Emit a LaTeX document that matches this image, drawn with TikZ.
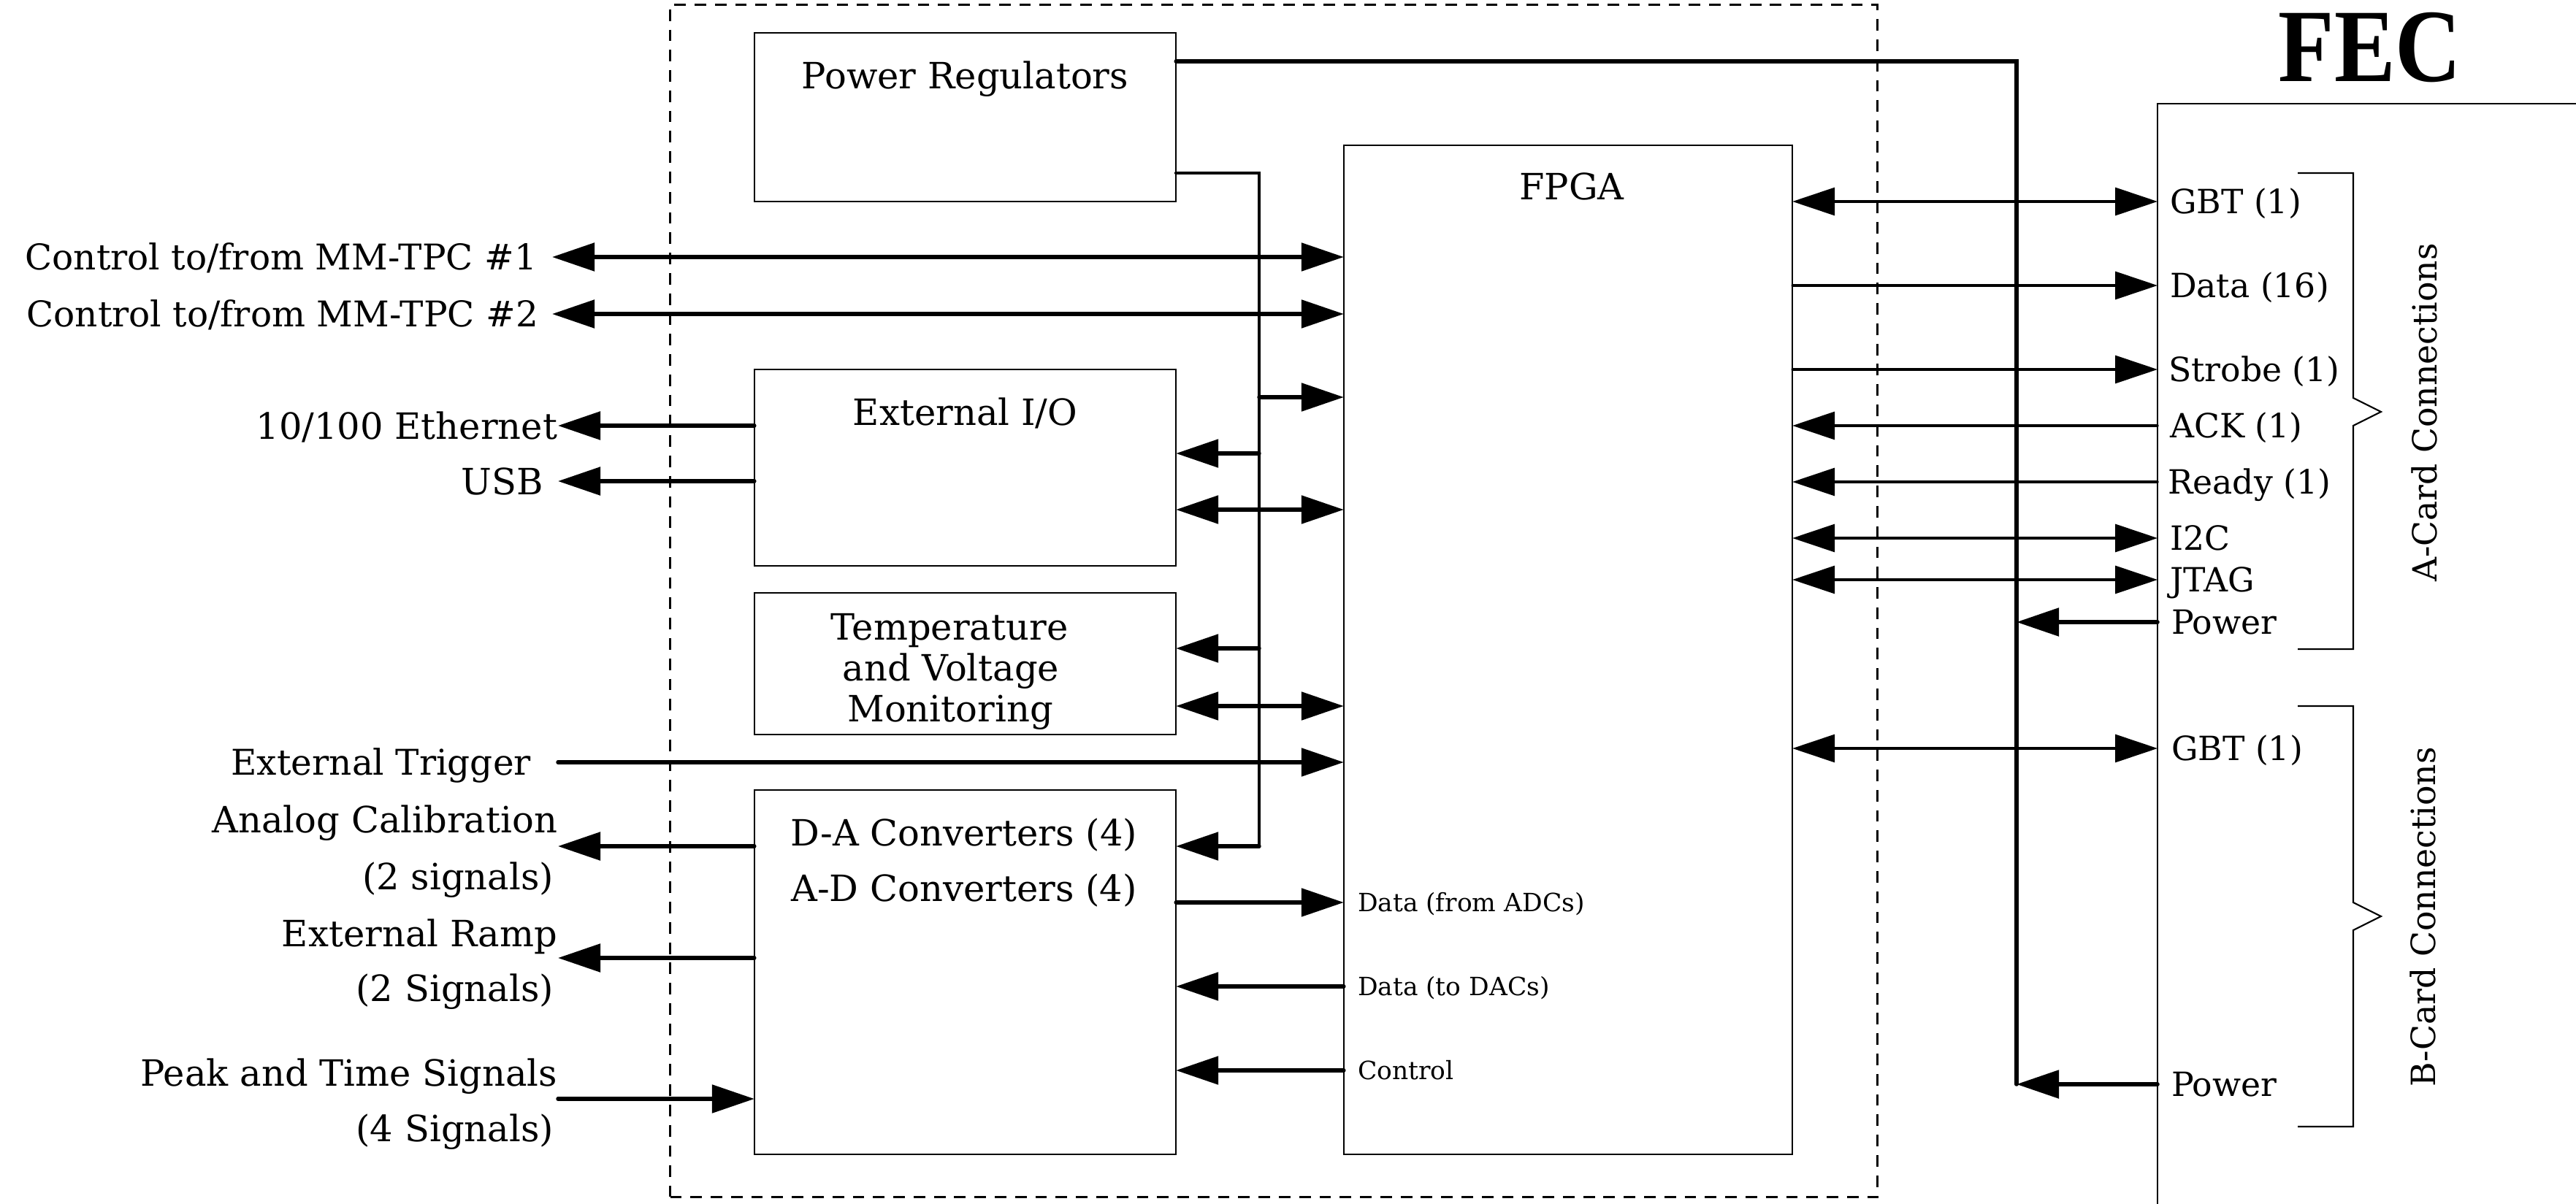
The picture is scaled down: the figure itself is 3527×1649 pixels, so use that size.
\documentclass[tikz,border=0pt]{standalone}
\usepackage{fontspec}
\setmainfont{DejaVu Serif}
\newfontfamily\fecfont{Liberation Serif}
\usetikzlibrary{arrows.meta,calc}
\begin{document}
\begin{tikzpicture}[x=0.01cm,y=-0.01cm,
  >={Triangle[length=0.58cm,width=0.38cm]},
  box/.style={draw,line width=0.6pt,inner sep=0pt,outer sep=0pt},
  lbl/.style={inner sep=0pt,outer sep=0pt,font=\fontsize{14.1}{17}\selectfont,text height=10.28pt,text depth=0pt},
  clbl/.style={inner sep=0pt,outer sep=0pt,font=\fontsize{13.8}{17}\selectfont,text height=10.06pt,text depth=0pt},
  rlbl/.style={inner sep=0pt,outer sep=0pt,font=\fontsize{13}{15}\selectfont,text height=9.48pt,text depth=0pt},
  slbl/.style={inner sep=0pt,outer sep=0pt,font=\fontsize{9.8}{12}\selectfont,text height=7.15pt,text depth=0pt},
  thk/.style={line width=1.55pt,line cap=round},
  thn/.style={line width=0.95pt,line cap=round},
  busl/.style={line width=1.35pt,line cap=round,line join=miter},
  brace/.style={line width=0.6pt},
]
\useasboundingbox (0,0) rectangle (3527,1649);

% dashed frame
\node[draw,dash pattern=on 4.5pt off 3.4pt,line width=0.6pt,minimum width=16.52cm,minimum height=16.32cm,inner sep=0pt,outer sep=0pt] (frame) at (1744,823) {};

% boxes
\node[box,minimum width=5.77cm,minimum height=2.31cm] (pr) at (1321.5,160.5) {};
\node[box,minimum width=6.14cm,minimum height=13.82cm] (fpga) at (2147,890) {};
\node[box,minimum width=5.77cm,minimum height=2.69cm] (io) at (1321.5,640.5) {};
\node[box,minimum width=5.77cm,minimum height=1.94cm] (tv) at (1321.5,909) {};
\node[box,minimum width=5.77cm,minimum height=4.99cm] (dac) at (1321.5,1331.5) {};

% FEC outline
\coordinate (fecTL) at (2954,142);
\draw[line width=0.6pt] (3527,142) -- (fecTL) -- (2954,1649);
\node[inner sep=0pt,outer sep=0pt,font=\fontsize{40.5}{41}\fecfont\bfseries,xscale=0.88,text height=27.2pt,text depth=0pt] (fec) at (3245,64) {FEC};

% box texts
\node[lbl] (prT) at (1321.5,103) {Power Regulators};
\node[lbl] (fpgaT) at (2152,255) {FPGA};
\node[lbl] (ioT) at (1321.5,564) {External I/O};
\node[lbl] (tv1) at (1300,858) {Temperature};
\node[lbl] (tv2) at (1302,914) {and Voltage};
\node[lbl] (tv3) at (1301,970) {Monitoring};
\node[lbl] (da1) at (1320,1140) {D-A Converters (4)};
\node[lbl] (da2) at (1320,1216) {A-D Converters (4)};

% left labels
\node[clbl,anchor=east] (c1) at (735,352) {Control to/from MM-TPC \#1};
\node[clbl,anchor=east] (c2) at (737,430) {Control to/from MM-TPC \#2};
\node[lbl,anchor=east] (eth) at (763,583) {10/100 Ethernet};
\node[lbl,anchor=east] (usb) at (744,659) {USB};
\node[clbl,anchor=east] (trig) at (727,1044) {External Trigger};
\node[lbl,anchor=east] (ac1) at (763,1122) {Analog Calibration};
\node[lbl,anchor=east] (ac2) at (758,1200) {(2 signals)};
\node[lbl,anchor=east] (er1) at (763,1278) {External Ramp};
\node[lbl,anchor=east] (er2) at (758,1353) {(2 Signals)};
\node[lbl,anchor=east] (pk1) at (763,1469) {Peak and Time Signals};
\node[lbl,anchor=east] (pk2) at (758,1545) {(4 Signals)};

% small FPGA labels
\node[slbl,anchor=west] (dfa) at (1859,1236) {Data (from ADCs)};
\node[slbl,anchor=west] (dtd) at (1859,1351) {Data (to DACs)};
\node[slbl,anchor=west] (ctl) at (1859,1466) {Control};

% right labels
\node[rlbl,anchor=west] (gbtA) at (2971,276) {GBT (1)};
\node[rlbl,anchor=west] (dat) at (2971,391) {Data (16)};
\node[rlbl,anchor=west] (stb) at (2969,506) {Strobe (1)};
\node[rlbl,anchor=west] (ack) at (2971,583) {ACK (1)};
\node[rlbl,anchor=west] (rdy) at (2968,660) {Ready (1)};
\node[rlbl,anchor=west] (i2c) at (2971,737) {I2C};
\node[rlbl,anchor=west] (jtag) at (2971,794) {JTAG};
\node[rlbl,anchor=west] (pwA) at (2973,852) {Power};
\node[rlbl,anchor=west] (gbtB) at (2973,1025) {GBT (1)};
\node[rlbl,anchor=west] (pwB) at (2973,1485) {Power};

\node[rlbl,rotate=90] (acard) at (3320,565) {A-Card Connections};
\node[rlbl,rotate=90] (bcard) at (3318,1256) {B-Card Connections};

% braces
\draw[brace] (3146,237) -- (3222,237) -- (3222,545) -- (3260,564) -- (3222,583) -- (3222,889) -- (3146,889);
\draw[brace] (3146,967) -- (3222,967) -- (3222,1236) -- (3260,1255) -- (3222,1274) -- (3222,1543) -- (3146,1543);

% power distribution
\coordinate (pwTop) at (2761,84);
\coordinate (pwBot) at (2761,1485);
\draw[thk] (pr.east |- pwTop) -- (pwTop) -- (pwBot);
\draw[thk,->] (fecTL |- pwA) -- (pwTop |- pwA);
\draw[thk,->] (fecTL |- pwB) -- (pwTop |- pwB);

% internal bus
\coordinate (busTop) at (1724,237);
\coordinate (busBot) at (1724,1159);
\draw[busl] (pr.east |- busTop) -- (busTop) -- (busBot);
\coordinate (b1) at (1724,544);
\coordinate (b2) at (1724,621);
\coordinate (b3) at (1724,698);
\coordinate (b4) at (1724,888);
\coordinate (b5) at (1724,967);
\draw[thk,->] (b1) -- (b1 -| fpga.west);
\draw[thk,->] (b2) -- (b2 -| io.east);
\draw[thk,<->] (io.east |- b3) -- (fpga.west |- b3);
\draw[thk,->] (b4) -- (b4 -| tv.east);
\draw[thk,<->] (tv.east |- b5) -- (fpga.west |- b5);
\draw[thk,->] (busBot) -- (busBot -| dac.east);

% left connections
\coordinate (Lc) at (756,0);
\coordinate (Lx) at (764,0);
\draw[thk,<->] (Lc |- c1) -- (fpga.west |- c1);
\draw[thk,<->] (Lc |- c2) -- (fpga.west |- c2);
\draw[thk,->] (io.west |- eth) -- (Lx |- eth);
\draw[thk,->] (io.west |- usb) -- (Lx |- usb);
\draw[thk,->] (Lx |- trig) -- (fpga.west |- trig);
\coordinate (acY) at (0,1159);
\coordinate (erY) at (0,1312);
\coordinate (pkY) at (0,1505);
\draw[thk,->] (dac.west |- acY) -- (Lx |- acY);
\draw[thk,->] (dac.west |- erY) -- (Lx |- erY);
\draw[thk,->] (Lx |- pkY) -- (dac.west |- pkY);

% converters <-> FPGA
\draw[thk,->] (dac.east |- dfa) -- (fpga.west |- dfa);
\draw[thk,->] (fpga.west |- dtd) -- (dac.east |- dtd);
\draw[thk,->] (fpga.west |- ctl) -- (dac.east |- ctl);

% FPGA <-> FEC
\draw[thn,<->] (fpga.east |- gbtA) -- (fecTL |- gbtA);
\draw[thn,->] (fpga.east |- dat) -- (fecTL |- dat);
\draw[thn,->] (fpga.east |- stb) -- (fecTL |- stb);
\draw[thn,->] (fecTL |- ack) -- (fpga.east |- ack);
\draw[thn,->] (fecTL |- rdy) -- (fpga.east |- rdy);
\draw[thn,<->] (fpga.east |- i2c) -- (fecTL |- i2c);
\draw[thn,<->] (fpga.east |- jtag) -- (fecTL |- jtag);
\draw[thn,<->] (fpga.east |- gbtB) -- (fecTL |- gbtB);
\end{tikzpicture}
\end{document}
